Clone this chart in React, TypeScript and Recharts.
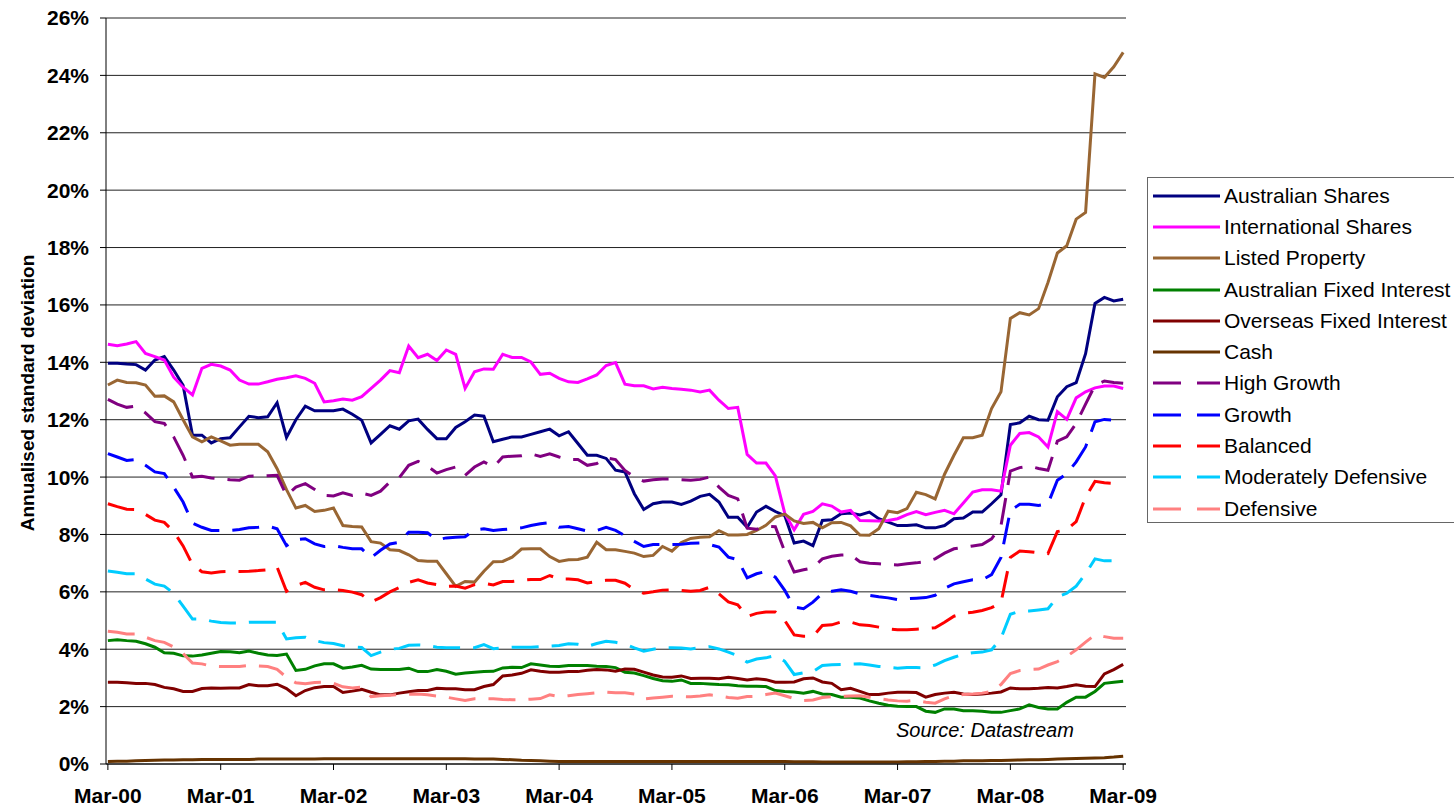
import { LineChart, Line, XAxis, YAxis, CartesianGrid, Legend } from "recharts";

// monthly readings, Mar-00 .. Mar-09 (109 months), annualised std dev in %
const ausShares = [
  13.97, 13.97, 13.94, 13.92, 13.73, 14.08, 14.2, 13.73, 13.2, 11.46,
  11.46, 11.19, 11.34, 11.37, 11.75, 12.12, 12.07, 12.1, 12.59, 11.38,
  12.0, 12.47, 12.31, 12.31, 12.31, 12.37, 12.19, 11.98, 11.19, 11.49,
  11.79, 11.67, 11.96, 12.02, 11.66, 11.34, 11.34, 11.73, 11.93, 12.16,
  12.12, 11.23, 11.32, 11.4, 11.4, 11.49, 11.58, 11.67, 11.44, 11.58,
  11.17, 10.76, 10.76, 10.65, 10.24, 10.18, 9.42, 8.87, 9.07, 9.13,
  9.13, 9.05, 9.16, 9.33, 9.4, 9.13, 8.6, 8.6, 8.25, 8.78,
  8.98, 8.8, 8.66, 7.7, 7.77, 7.61, 8.49, 8.51, 8.72, 8.75,
  8.68, 8.78, 8.55, 8.43, 8.31, 8.31, 8.34, 8.23, 8.23, 8.31,
  8.55, 8.57, 8.78, 8.78, 9.07, 9.38, 11.83, 11.89, 12.12, 12.0,
  11.98, 12.8, 13.15, 13.29, 14.3, 16.05, 16.26, 16.14, 16.2,
];
const intlShares = [
  14.63, 14.58, 14.64, 14.72, 14.31, 14.2, 14.08, 13.48, 13.13, 12.86,
  13.79, 13.93, 13.87, 13.73, 13.38, 13.24, 13.24, 13.32, 13.41, 13.46,
  13.53, 13.44, 13.27, 12.62, 12.66, 12.72, 12.68, 12.8, 13.09, 13.38,
  13.71, 13.64, 14.57, 14.16, 14.28, 14.06, 14.43, 14.28, 13.09, 13.67,
  13.77, 13.76, 14.28, 14.17, 14.17, 14.01, 13.58, 13.62, 13.44, 13.32,
  13.3, 13.42, 13.56, 13.89, 13.99, 13.24, 13.18, 13.18, 13.07, 13.13,
  13.09, 13.06, 13.03, 12.97, 13.03, 12.68, 12.39, 12.43, 10.79, 10.49,
  10.49, 10.04, 8.74, 8.16, 8.7, 8.8, 9.07, 8.99, 8.78, 8.84,
  8.49, 8.48, 8.47, 8.49, 8.55, 8.69, 8.8, 8.69, 8.77, 8.84,
  8.72, 9.1, 9.48, 9.56, 9.56, 9.51, 11.11, 11.52, 11.55, 11.4,
  11.05, 12.28, 12.01, 12.76, 12.97, 13.11, 13.17, 13.17, 13.09,
];
const listedProperty = [
  13.21, 13.38, 13.3, 13.29, 13.21, 12.82, 12.83, 12.62, 12.0, 11.4,
  11.23, 11.4, 11.26, 11.11, 11.14, 11.14, 11.14, 10.88, 10.29, 9.56,
  8.92, 9.01, 8.8, 8.84, 8.92, 8.31, 8.28, 8.26, 7.75, 7.7,
  7.47, 7.44, 7.29, 7.09, 7.07, 7.07, 6.63, 6.19, 6.36, 6.34,
  6.72, 7.05, 7.06, 7.21, 7.49, 7.5, 7.5, 7.23, 7.06, 7.12,
  7.13, 7.21, 7.73, 7.47, 7.47, 7.41, 7.35, 7.23, 7.27, 7.58,
  7.42, 7.72, 7.86, 7.9, 7.92, 8.13, 7.98, 7.98, 8.0, 8.14,
  8.32, 8.61, 8.71, 8.47, 8.38, 8.42, 8.23, 8.41, 8.42, 8.3,
  7.98, 7.97, 8.2, 8.81, 8.76, 8.9, 9.47, 9.39, 9.24, 10.1,
  10.76, 11.37, 11.37, 11.46, 12.39, 12.97, 15.53, 15.73, 15.65, 15.87,
  16.78, 17.81, 18.06, 18.99, 19.22, 24.05, 23.93, 24.3, 24.8,
];
const ausFixed = [
  4.3, 4.33, 4.3, 4.28, 4.19, 4.07, 3.88, 3.86, 3.77, 3.76,
  3.8, 3.86, 3.92, 3.91, 3.88, 3.94, 3.86, 3.8, 3.78, 3.83,
  3.26, 3.3, 3.42, 3.49, 3.49, 3.34, 3.38, 3.44, 3.31, 3.29,
  3.29, 3.29, 3.34, 3.22, 3.22, 3.29, 3.23, 3.13, 3.17, 3.2,
  3.22, 3.23, 3.35, 3.37, 3.36, 3.49, 3.45, 3.41, 3.4, 3.43,
  3.43, 3.43, 3.41, 3.4, 3.36, 3.2, 3.17, 3.08, 2.98, 2.9,
  2.88, 2.93, 2.81, 2.81, 2.79, 2.77, 2.76, 2.73, 2.71, 2.71,
  2.7, 2.56, 2.53, 2.51, 2.47, 2.53, 2.44, 2.42, 2.33, 2.33,
  2.3, 2.2, 2.12, 2.05, 2.01, 2.0, 2.0, 1.84, 1.8, 1.92,
  1.92, 1.86, 1.86, 1.84, 1.8, 1.8, 1.86, 1.92, 2.06, 1.97,
  1.92, 1.92, 2.15, 2.33, 2.33, 2.53, 2.81, 2.85, 2.88,
];
const overseasFixed = [
  2.85, 2.85, 2.83, 2.81, 2.81, 2.77, 2.67, 2.62, 2.53, 2.53,
  2.63, 2.65, 2.64, 2.65, 2.65, 2.77, 2.73, 2.73, 2.78, 2.63,
  2.38, 2.56, 2.66, 2.7, 2.7, 2.49, 2.54, 2.6, 2.5, 2.41,
  2.41, 2.47, 2.52, 2.56, 2.56, 2.64, 2.62, 2.62, 2.59, 2.59,
  2.7, 2.77, 3.07, 3.1, 3.16, 3.28, 3.23, 3.2, 3.2, 3.22,
  3.22, 3.27, 3.29, 3.28, 3.23, 3.31, 3.3, 3.2, 3.1, 3.03,
  3.02, 3.07, 2.98, 2.99, 2.99, 2.97, 3.02, 2.98, 2.93, 2.97,
  2.94, 2.85, 2.85, 2.86, 2.97, 3.0, 2.86, 2.81, 2.59, 2.64,
  2.53, 2.42, 2.42, 2.47, 2.5, 2.5, 2.49, 2.33, 2.42, 2.47,
  2.5, 2.44, 2.42, 2.44, 2.47, 2.51, 2.65, 2.62, 2.62, 2.64,
  2.67, 2.65, 2.7, 2.76, 2.71, 2.7, 3.14, 3.29, 3.47,
];
const cash = [
  0.09, 0.1, 0.1, 0.11, 0.12, 0.13, 0.14, 0.14, 0.15, 0.15,
  0.16, 0.16, 0.16, 0.16, 0.16, 0.16, 0.17, 0.17, 0.17, 0.17,
  0.17, 0.17, 0.17, 0.18, 0.18, 0.18, 0.18, 0.18, 0.18, 0.18,
  0.18, 0.18, 0.18, 0.18, 0.18, 0.18, 0.18, 0.18, 0.18, 0.17,
  0.17, 0.17, 0.16, 0.15, 0.13, 0.12, 0.11, 0.1, 0.09, 0.09,
  0.09, 0.09, 0.09, 0.09, 0.09, 0.09, 0.09, 0.09, 0.09, 0.09,
  0.09, 0.09, 0.09, 0.09, 0.09, 0.09, 0.09, 0.09, 0.09, 0.09,
  0.09, 0.09, 0.09, 0.08, 0.08, 0.08, 0.07, 0.07, 0.07, 0.07,
  0.07, 0.07, 0.07, 0.07, 0.07, 0.08, 0.08, 0.09, 0.09, 0.1,
  0.1, 0.11, 0.11, 0.11, 0.12, 0.12, 0.13, 0.14, 0.15, 0.15,
  0.16, 0.17, 0.18, 0.19, 0.2, 0.21, 0.22, 0.24, 0.27,
];
const highGrowth = [
  12.71, 12.54, 12.43, 12.47, 12.24, 11.93, 11.87, 11.4, 10.76, 10.0,
  10.03, 9.97, 9.94, 9.91, 9.89, 10.03, 10.04, 10.05, 10.06, 9.36,
  9.65, 9.77, 9.57, 9.36, 9.34, 9.45, 9.36, 9.44, 9.36, 9.51,
  9.83, 9.98, 10.41, 10.55, 10.38, 10.14, 10.26, 10.35, 10.06, 10.35,
  10.53, 10.35, 10.7, 10.73, 10.74, 10.81, 10.72, 10.81, 10.7, 10.61,
  10.61, 10.41, 10.47, 10.67, 10.61, 10.23, 10.0, 9.86, 9.91, 9.93,
  9.94, 9.91, 9.89, 9.92, 10.0, 9.65, 9.36, 9.24, 8.22, 8.18,
  8.29, 8.27, 7.4, 6.69, 6.77, 6.84, 7.15, 7.24, 7.28, 7.29,
  7.05, 7.0, 6.98, 6.95, 6.94, 6.98, 7.01, 7.05, 7.15, 7.35,
  7.5, 7.55, 7.6, 7.65, 7.85, 8.3, 10.21, 10.33, 10.38, 10.3,
  10.24, 11.25, 11.4, 11.87, 12.54, 13.2, 13.35, 13.3, 13.27,
];
const growth = [
  10.82, 10.7, 10.58, 10.61, 10.41, 10.18, 10.12, 9.65, 9.13, 8.39,
  8.25, 8.14, 8.14, 8.14, 8.17, 8.23, 8.25, 8.29, 8.2, 7.61,
  7.82, 7.85, 7.67, 7.58, 7.61, 7.55, 7.5, 7.5, 7.19, 7.45,
  7.67, 7.73, 8.08, 8.08, 8.06, 7.81, 7.88, 7.9, 7.92, 8.16,
  8.2, 8.14, 8.17, 8.2, 8.23, 8.31, 8.37, 8.41, 8.25, 8.28,
  8.2, 8.12, 8.14, 8.25, 8.14, 7.96, 7.76, 7.58, 7.65, 7.65,
  7.65, 7.66, 7.69, 7.7, 7.65, 7.56, 7.21, 7.12, 6.49, 6.63,
  6.71, 6.51, 6.05, 5.47, 5.41, 5.64, 5.95, 6.02, 6.07, 6.02,
  5.93, 5.88, 5.83, 5.79, 5.73, 5.76, 5.78, 5.8, 5.88, 6.12,
  6.28, 6.35, 6.42, 6.42, 6.6, 7.2, 8.84, 9.05, 9.05, 9.01,
  9.07, 9.89, 10.12, 10.53, 11.05, 11.93, 12.01, 11.98, 11.93,
];
const balanced = [
  9.07, 8.97, 8.88, 8.87, 8.7, 8.5, 8.42, 8.1, 7.6, 6.95,
  6.7, 6.66, 6.7, 6.71, 6.71, 6.72, 6.74, 6.77, 6.86, 6.02,
  6.22, 6.33, 6.16, 6.07, 6.08, 6.05, 5.99, 5.9, 5.65, 5.8,
  6.0, 6.15, 6.33, 6.42, 6.31, 6.25, 6.19, 6.2, 6.13, 6.25,
  6.3, 6.24, 6.36, 6.36, 6.4, 6.43, 6.43, 6.57, 6.45, 6.45,
  6.42, 6.31, 6.36, 6.4, 6.4, 6.3, 6.08, 5.95, 6.0, 6.06,
  6.07, 6.05, 6.02, 6.05, 6.16, 5.93, 5.65, 5.55, 5.14, 5.25,
  5.3, 5.3, 5.0, 4.5, 4.45, 4.45, 4.83, 4.85, 4.95, 4.95,
  4.85, 4.83, 4.77, 4.71, 4.68, 4.68, 4.7, 4.72, 4.75, 4.94,
  5.15, 5.25, 5.29, 5.35, 5.45, 5.62, 7.2, 7.42, 7.4, 7.36,
  7.33, 8.1, 8.17, 8.45, 9.3, 9.85, 9.8, 9.78, 9.83,
];
const modDefensive = [
  6.73, 6.68, 6.63, 6.63, 6.45, 6.27, 6.2, 5.95, 5.5, 5.05,
  5.05, 4.98, 4.93, 4.91, 4.91, 4.94, 4.94, 4.94, 4.94, 4.36,
  4.4, 4.42, 4.3, 4.23, 4.2, 4.12, 4.08, 4.06, 3.78, 3.9,
  4.0, 4.03, 4.14, 4.15, 4.13, 4.07, 4.05, 4.05, 4.05, 4.05,
  4.16, 4.02, 4.05, 4.07, 4.07, 4.07, 4.09, 4.11, 4.13, 4.19,
  4.17, 4.1, 4.2, 4.28, 4.24, 4.18, 4.05, 3.93, 4.0, 4.05,
  4.05, 4.04, 4.01, 4.05, 4.09, 4.01, 3.9, 3.78, 3.55, 3.66,
  3.7, 3.78, 3.58, 3.12, 3.18, 3.22, 3.43, 3.46, 3.47, 3.48,
  3.49, 3.45, 3.4, 3.37, 3.34, 3.36, 3.36, 3.35, 3.45, 3.6,
  3.72, 3.83, 3.88, 3.9, 3.98, 4.38, 5.22, 5.33, 5.33, 5.37,
  5.41, 5.82, 5.95, 6.2, 6.63, 7.15, 7.08, 7.08, 7.12,
];
const defensive = [
  4.63, 4.59, 4.53, 4.53, 4.42, 4.3, 4.24, 4.08, 3.85, 3.52,
  3.49, 3.41, 3.4, 3.4, 3.4, 3.43, 3.42, 3.4, 3.3, 3.02,
  2.83, 2.8, 2.84, 2.85, 2.81, 2.69, 2.65, 2.68, 2.35, 2.38,
  2.4, 2.42, 2.43, 2.44, 2.41, 2.37, 2.33, 2.27, 2.21, 2.27,
  2.27, 2.27, 2.25, 2.24, 2.24, 2.26, 2.28, 2.41, 2.35, 2.38,
  2.42, 2.45, 2.48, 2.5, 2.48, 2.48, 2.44, 2.27, 2.3, 2.33,
  2.36, 2.35, 2.34, 2.37, 2.41, 2.38, 2.32, 2.29, 2.35, 2.36,
  2.42, 2.47, 2.38, 2.28, 2.21, 2.23, 2.32, 2.35, 2.36, 2.37,
  2.38, 2.33, 2.28, 2.23, 2.2, 2.19, 2.22, 2.15, 2.12, 2.27,
  2.38, 2.42, 2.44, 2.47, 2.53, 2.77, 3.15, 3.26, 3.29, 3.31,
  3.45, 3.57, 3.75, 3.98, 4.25, 4.5, 4.44, 4.38, 4.38,
];

const xTicks = [0, 12, 24, 36, 48, 60, 72, 84, 96, 108];
const xLabels = ["Mar-00", "Mar-01", "Mar-02", "Mar-03", "Mar-04", "Mar-05", "Mar-06", "Mar-07", "Mar-08", "Mar-09"];
const yTicks = [0, 2, 4, 6, 8, 10, 12, 14, 16, 18, 20, 22, 24, 26];

const series = [
  { key: "ausShares", name: "Australian Shares", color: "#000080", dashed: false, values: ausShares },
  { key: "intlShares", name: "International Shares", color: "#FF00FF", dashed: false, values: intlShares },
  { key: "listedProperty", name: "Listed Property", color: "#996633", dashed: false, values: listedProperty },
  { key: "ausFixed", name: "Australian Fixed Interest", color: "#008000", dashed: false, values: ausFixed },
  { key: "overseasFixed", name: "Overseas Fixed Interest", color: "#800000", dashed: false, values: overseasFixed },
  { key: "cash", name: "Cash", color: "#663300", dashed: false, values: cash },
  { key: "highGrowth", name: "High Growth", color: "#800080", dashed: true, values: highGrowth },
  { key: "growth", name: "Growth", color: "#0000FF", dashed: true, values: growth },
  { key: "balanced", name: "Balanced", color: "#FF0000", dashed: true, values: balanced },
  { key: "modDefensive", name: "Moderately Defensive", color: "#00CCFF", dashed: true, values: modDefensive },
  { key: "defensive", name: "Defensive", color: "#FF8080", dashed: true, values: defensive },
];

const data = ausShares.map((_, i) => {
  const row: Record<string, number> = { m: i };
  series.forEach((s) => (row[s.key] = s.values[i]));
  return row;
});

const FONT = "Arial, 'Liberation Sans', sans-serif";
const DASH = "27 13";

function LegendBox() {
  return (
    <div
      style={{
        width: 307,
        height: 346,
        boxSizing: "border-box",
        borderTop: "1px solid #666",
        borderLeft: "1px solid #666",
        borderBottom: "1px solid #666",
        background: "#fff",
        fontFamily: FONT,
        fontSize: 21,
        color: "#000",
        paddingTop: 2,
      }}
    >
      {series.map((s) => (
        <div key={s.key} style={{ display: "flex", alignItems: "center", height: 31.3, whiteSpace: "nowrap" }}>
          <svg width={76} height={10} style={{ flex: "none" }}>
            <line
              x1={5}
              x2={72}
              y1={5}
              y2={5}
              stroke={s.color}
              strokeWidth={3}
              strokeDasharray={s.dashed ? "28 16" : undefined}
            />
          </svg>
          <span>{s.name}</span>
        </div>
      ))}
    </div>
  );
}

export default function App() {
  return (
    <div style={{ position: "absolute", left: 0, top: 0, width: 1454, height: 807, background: "#fff" }}>
      <LineChart width={1454} height={807} data={data} margin={{ top: 18, right: 21, bottom: 0, left: 0 }}>
        <CartesianGrid horizontal vertical={false} stroke="#222" />
        <XAxis
          dataKey="m"
          type="number"
          domain={[-0.2, 108.3]}
          ticks={xTicks}
          tickFormatter={(v: number) => xLabels[xTicks.indexOf(v)] ?? ""}
          interval={0}
          height={43}
          tickSize={6}
          tickMargin={18}
          stroke="#000"
          tick={{ fill: "#000", fontSize: 21, fontWeight: "bold", fontFamily: FONT }}
        />
        <YAxis
          type="number"
          domain={[0, 26]}
          ticks={yTicks}
          interval={0}
          width={106}
          tickSize={6}
          tickMargin={11}
          stroke="#000"
          tickFormatter={(v: number) => `${v}%`}
          tick={{ fill: "#000", fontSize: 21, fontWeight: "bold", fontFamily: FONT }}
          label={{
            content: () => (
              <text
                transform="translate(27,393) rotate(-90)"
                textAnchor="middle"
                dy="0.355em"
                fill="#000"
                fontSize={19}
                fontWeight="bold"
                fontFamily={FONT}
              >
                Annualised standard deviation
              </text>
            ),
          }}
        />
        <Legend
          layout="vertical"
          align="right"
          verticalAlign="top"
          wrapperStyle={{ left: 1147, top: 177, width: 307 }}
          content={() => <LegendBox />}
        />
        {series.map((s) => (
          <Line
            key={s.key}
            type="linear"
            dataKey={s.key}
            name={s.name}
            stroke={s.color}
            strokeWidth={3}
            strokeDasharray={s.dashed ? DASH : undefined}
            dot={false}
            activeDot={false}
            isAnimationActive={false}
          />
        ))}
      </LineChart>
      <div
        style={{
          position: "absolute",
          left: 896,
          top: 720,
          fontFamily: FONT,
          fontSize: 20,
          lineHeight: "20px",
          fontStyle: "italic",
          color: "#000",
          whiteSpace: "nowrap",
        }}
      >
        Source: Datastream
      </div>
    </div>
  );
}
